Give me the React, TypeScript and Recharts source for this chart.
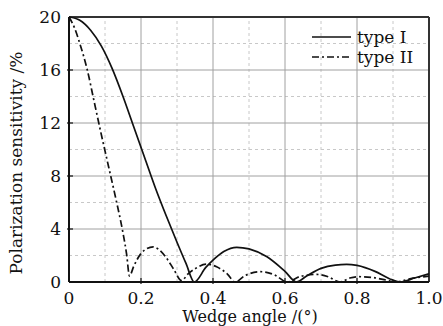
import { LineChart, Line, XAxis, YAxis, ReferenceLine, Legend } from "recharts";

// type I (solid)
const typeIX = [0, 0.03, 0.06, 0.09, 0.12, 0.15, 0.18, 0.21, 0.24, 0.27, 0.3, 0.325, 0.348, 0.38, 0.4, 0.43, 0.466, 0.5, 0.55, 0.6, 0.632, 0.66, 0.7, 0.74, 0.771, 0.8, 0.85, 0.89, 0.92, 0.96, 1.0];
const typeIY = [20, 19.75, 19.0, 17.8, 16.1, 14.0, 11.7, 9.4, 7.1, 5.0, 3.0, 1.4, 0, 1.1, 1.65, 2.3, 2.62, 2.5, 1.9, 0.8, 0, 0.45, 1.03, 1.28, 1.33, 1.25, 0.8, 0.25, 0, 0.3, 0.62];

// type II (dash-dot)
const typeIIX = [0, 0.015, 0.03, 0.05, 0.07, 0.09, 0.11, 0.13, 0.15, 0.16, 0.168, 0.18, 0.2, 0.215, 0.234, 0.25, 0.271, 0.29, 0.313, 0.33, 0.35, 0.382, 0.41, 0.44, 0.461, 0.49, 0.531, 0.57, 0.607, 0.64, 0.688, 0.72, 0.753, 0.78, 0.803, 0.84, 0.88, 0.908, 0.95, 1.0];
const typeIIY = [20, 19.2, 18.0, 16.1, 13.6, 11.1, 8.7, 6.3, 3.7, 2.1, 0.45, 1.2, 2.15, 2.5, 2.65, 2.45, 1.8, 1.0, 0.1, 0.6, 1.0, 1.35, 1.15, 0.6, 0, 0.5, 0.78, 0.55, 0, 0.4, 0.57, 0.4, 0, 0.3, 0.4, 0.35, 0.15, 0, 0.25, 0.45];

const xTicks = [0, 0.2, 0.4, 0.6, 0.8, 1.0];
const yTicks = [0, 4, 8, 12, 16, 20];
const xMinor = [0.1, 0.3, 0.5, 0.7, 0.9];
const yMinor = [2, 6, 10, 14, 18];

const typeIData = typeIX.map((x, i) => ({ x, y: typeIY[i] }));
const typeIIData = typeIIX.map((x, i) => ({ x, y: typeIIY[i] }));

const FONT = "'DejaVu Serif', serif";
const DARK = "#111";
const DASH = "7 3 2 3";

const XTick = ({ x, y, payload }: any) => (
  <g>
    {payload.value > 0 && payload.value < 1 && (
      <line x1={x} x2={x} y1={y} y2={y - 6} stroke={DARK} strokeWidth={1.2} />
    )}
    <text x={x} y={y + 20} textAnchor="middle" fontFamily={FONT} fontSize={17} fill={DARK}>
      {payload.value === 0 ? "0" : payload.value.toFixed(1)}
    </text>
  </g>
);

const YTick = ({ x, y, payload }: any) => (
  <g>
    {payload.value > 0 && payload.value < 20 && (
      <line x1={x} x2={x + 6} y1={y} y2={y} stroke={DARK} strokeWidth={1.2} />
    )}
    <text x={x - 6} y={y + 6} textAnchor="end" fontFamily={FONT} fontSize={17} fill={DARK}>
      {payload.value}
    </text>
  </g>
);

const LegendBox = () => (
  <div style={{ fontFamily: FONT, fontSize: 17, color: DARK, lineHeight: "20px" }}>
    <div style={{ display: "flex", alignItems: "center" }}>
      <svg width={42} height={20}>
        <line x1={2} x2={41} y1={10} y2={10} stroke={DARK} strokeWidth={1.7} />
      </svg>
      <span style={{ marginLeft: 5 }}>type I</span>
    </div>
    <div style={{ display: "flex", alignItems: "center" }}>
      <svg width={42} height={20}>
        <line x1={2} x2={41} y1={10} y2={10} stroke={DARK} strokeWidth={1.7} strokeDasharray={DASH} />
      </svg>
      <span style={{ marginLeft: 5 }}>type II</span>
    </div>
  </div>
);

export default function App() {
  return (
    <div style={{ position: "absolute", left: 0, top: 0, background: "#fff" }}>
      <LineChart width={443} height={326} margin={{ top: 17, right: 14, bottom: 0, left: 0 }}>
        {xMinor.map((v) => (
          <ReferenceLine key={"xm" + v} x={v} stroke="#c8c8c8" strokeDasharray="3 3" />
        ))}
        {yMinor.map((v) => (
          <ReferenceLine key={"ym" + v} y={v} stroke="#c8c8c8" strokeDasharray="3 3" />
        ))}
        {xTicks.slice(1, -1).map((v) => (
          <ReferenceLine key={"xM" + v} x={v} stroke="#a0a0a0" />
        ))}
        {yTicks.slice(1, -1).map((v) => (
          <ReferenceLine key={"yM" + v} y={v} stroke="#a0a0a0" />
        ))}
        <XAxis
          type="number"
          dataKey="x"
          domain={[0, 1]}
          ticks={xTicks}
          height={44}
          tickLine={false}
          tickSize={0}
          tick={<XTick />}
          axisLine={{ stroke: DARK, strokeWidth: 2 }}
          allowDuplicatedCategory={false}
          label={{
            content: () => (
              <text x={250} y={322} textAnchor="middle" fontFamily={FONT} fontSize={16} fill={DARK}>
                Wedge angle /(°)
              </text>
            ),
          }}
        />
        <YAxis
          type="number"
          dataKey="y"
          domain={[0, 20]}
          ticks={yTicks}
          width={69}
          tickLine={false}
          tickSize={0}
          tick={<YTick />}
          axisLine={{ stroke: DARK, strokeWidth: 2 }}
          label={{
            content: () => (
              <text
                x={0}
                y={0}
                transform="translate(22,163) rotate(-90)"
                textAnchor="middle"
                fontFamily={FONT}
                fontSize={17}
                fill={DARK}
              >
                Polarization sensitivity /%
              </text>
            ),
          }}
        />
        <ReferenceLine x={1} stroke="#333" strokeWidth={2} />
        <ReferenceLine y={20} stroke="#333" strokeWidth={2} />
        <Line
          data={typeIData}
          dataKey="y"
          type="monotone"
          stroke={DARK}
          strokeWidth={1.7}
          dot={false}
          isAnimationActive={false}
        />
        <Line
          data={typeIIData}
          dataKey="y"
          type="monotone"
          stroke={DARK}
          strokeWidth={1.7}
          strokeDasharray={DASH}
          dot={false}
          isAnimationActive={false}
        />
        <Legend
          layout="vertical"
          align="center"
          verticalAlign="middle"
          content={<LegendBox />}
          wrapperStyle={{ position: "absolute", top: 27, left: 310, width: 120, margin: 0 }}
        />
      </LineChart>
    </div>
  );
}
